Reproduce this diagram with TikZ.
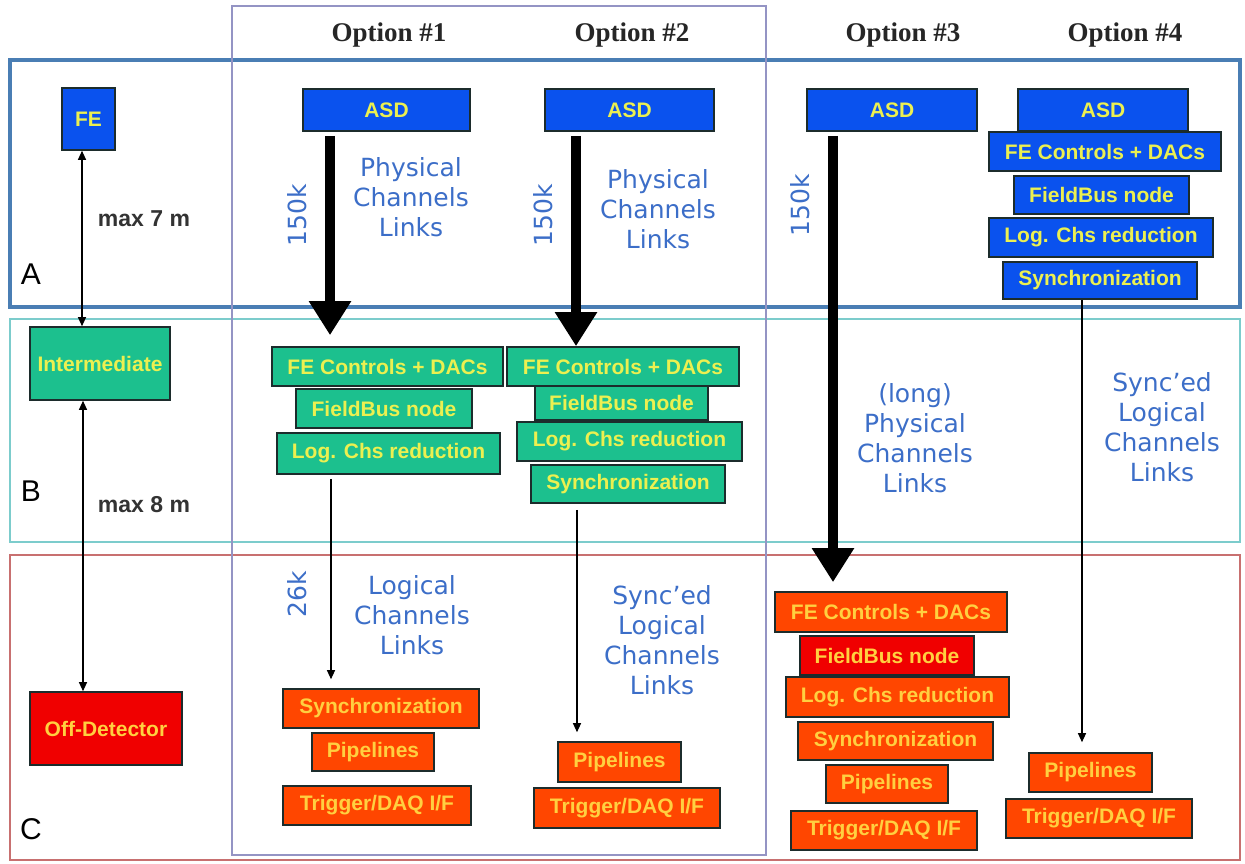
\documentclass[tikz,border=0pt]{standalone}
\usepackage{fontspec}
\usetikzlibrary{arrows.meta}
\setmainfont{Liberation Sans}
\newfontfamily\notefont{DejaVu Sans}
\newfontfamily\headfont{Liberation Serif}
\definecolor{feblue}{HTML}{0A52EE}
\definecolor{midgreen}{HTML}{1CC08E}
\definecolor{offorange}{HTML}{FF4600}
\definecolor{offred}{HTML}{F00000}
\definecolor{textyellow}{HTML}{ECF050}
\definecolor{textgold}{HTML}{FFD040}
\definecolor{linkblue}{HTML}{3C6EC8}
\definecolor{frameA}{HTML}{4A7EB4}
\definecolor{frameB}{HTML}{7CCCCC}
\definecolor{frameC}{HTML}{C87070}
\definecolor{optframe}{HTML}{9494C4}
\definecolor{boxline}{HTML}{1C2C2C}
\tikzset{
  sz/.style 2 args={minimum width=#1pt, minimum height=#2pt},
  blk/.style={draw=boxline, line width=1.6pt, inner sep=0pt, font=\bfseries\fontsize{21}{22}\selectfont},
  feblk/.style={blk, fill=feblue, text=textyellow},
  midblk/.style={blk, fill=midgreen, text=textyellow},
  offblk/.style={blk, fill=offorange, text=textgold},
  links/.style={text=linkblue, align=center, font=\notefont\fontsize{25}{30}\selectfont},
  rate/.style={text=linkblue, rotate=90, font=\notefont\fontsize{25}{30}\selectfont},
  head/.style={text=black!85, anchor=base, font=\headfont\bfseries\fontsize{27}{30}\selectfont},
  region/.style={font=\fontsize{30}{32}\selectfont},
  dist/.style={text=black!80, font=\bfseries\fontsize{23}{24}\selectfont},
  bigarrow/.style={line width=10pt, -{Triangle[width=40pt,length=34pt]}},
  link/.style={line width=1.2pt, -{Triangle[width=8pt,length=9pt]}},
  dim/.style={line width=1.2pt, {Triangle[width=8pt,length=9pt]}-{Triangle[width=8pt,length=9pt]}},
}
\begin{document}
\begin{tikzpicture}[x=1pt, y=-1pt]
\useasboundingbox[fill=white] (0,0) rectangle (1245,864);

% frames
\draw[frameA, line width=3.5pt] (10,60) rectangle (1240,307);
\draw[frameB, line width=1.3pt] (10,319) rectangle (1240,542);
\draw[frameC, line width=1.3pt] (10,555) rectangle (1240,860);
\draw[optframe, line width=2pt] (232,6) rectangle (766,855);

\foreach \n/\x in {1/389,2/632,3/903,4/1125}
{
    \node[head] (opt\n) at (\x,42) {Option \#\n};
}
\node[region] (rA) at (31,274) {A};
\node[region] (rB) at (31,491) {B};
\node[region] (rC) at (31,829) {C};

% left column
\node[feblk, sz={53}{62}] (fe) at (88.5,119) {FE};
\node[midblk, sz={140}{73}] (inter) at (100,363.5) {Intermediate};
\node[offblk, fill=offred, sz={152}{73}] (off) at (106,728.5) {Off-Detector};
\draw[dim] ([xshift=-6.5pt]fe.south) -- ([xshift=-6.5pt]fe.south |- inter.north);
\draw[dim] ([xshift=-17pt]inter.south) -- ([xshift=-17pt]inter.south |- off.north);
\node[dist] (d7) at (144,219) {max 7 m};
\node[dist] (d8) at (144,505) {max 8 m};

\foreach \n/\x/\w in {1/386.5/167,2/629.5/169,3/892/170,4/1103/170}
{
    \node[feblk, sz={\w}{42}] (asd\n) at (\x,110) {ASD};
}

% option 1
\node[midblk, sz={231}{39}] (ctl1) at (387.5,366.5) {FE Controls + DACs};
\node[midblk, sz={176}{39}] (fb1) at (384,408.5) {FieldBus node};
\node[midblk, sz={223}{41}] (log1) at (388.5,453.5) {Log. Chs reduction};
\node[offblk, sz={196}{39}] (syn1) at (381,708.5) {Synchronization};
\node[offblk, sz={122}{38}] (pip1) at (373,752) {Pipelines};
\node[offblk, sz={188}{39}] (trg1) at (377,805.5) {Trigger/DAQ I/F};

% option 2
\node[midblk, sz={232}{39}] (ctl2) at (623,366.5) {FE Controls + DACs};
\node[midblk, sz={173}{34}] (fb2) at (621.5,403) {FieldBus node};
\node[midblk, sz={225}{39}] (log2) at (629.5,441.5) {Log. Chs reduction};
\node[midblk, sz={194}{38}] (syn2) at (628,484) {Synchronization};
\node[offblk, sz={123}{40}] (pip2) at (619.5,762) {Pipelines};
\node[offblk, sz={186}{40}] (trg2) at (627,808) {Trigger/DAQ I/F};

% option 3
\node[offblk, sz={232}{40}] (ctl3) at (891,612) {FE Controls + DACs};
\node[offblk, fill=offred, sz={174}{39}] (fb3) at (887,655.5) {FieldBus node};
\node[offblk, sz={223}{40}] (log3) at (897.5,697) {Log. Chs reduction};
\node[offblk, sz={195}{38}] (syn3) at (895.5,741) {Synchronization};
\node[offblk, sz={122}{38}] (pip3) at (887,784) {Pipelines};
\node[offblk, sz={186}{39}] (trg3) at (884,830.5) {Trigger/DAQ I/F};

% option 4
\node[feblk, sz={232}{39}] (ctl4) at (1105,151.5) {FE Controls + DACs};
\node[feblk, sz={175}{38}] (fb4) at (1101.5,195) {FieldBus node};
\node[feblk, sz={224}{39}] (log4) at (1101,237.5) {Log. Chs reduction};
\node[feblk, sz={194}{37}] (syn4) at (1100,280.5) {Synchronization};
\node[offblk, sz={123}{39}] (pip4) at (1090.5,772.5) {Pipelines};
\node[offblk, sz={186}{39}] (trg4) at (1099,818.5) {Trigger/DAQ I/F};

% links
\coordinate (c1) at (330,0);
\coordinate (c2) at (576,0);
\coordinate (c3) at (833,0);
\coordinate (t1) at (331,0);
\coordinate (t2) at (577,0);
\coordinate (t4) at (1082,0);
\draw[bigarrow, shorten <=4pt, shorten >=11pt] (asd1.south -| c1) -- (ctl1.north -| c1);
\draw[bigarrow, shorten <=4pt] (asd2.south -| c2) -- (ctl2.north -| c2);
\draw[bigarrow, shorten <=4pt, shorten >=9pt] (asd3.south -| c3) -- (ctl3.north -| c3);
\draw[link, shorten <=4pt, shorten >=9pt] (log1.south -| t1) -- (syn1.north -| t1);
\draw[link, shorten <=6pt, shorten >=9pt] (syn2.south -| t2) -- (pip2.north -| t2);
\draw[link, shorten >=10pt] (syn4.south -| t4) -- (pip4.north -| t4);

\node[rate] (k1) at (297,215) {150k};
\node[rate] (k2) at (543,215) {150k};
\node[rate] (k3) at (800,205) {150k};
\node[rate] (k4) at (297,594) {26k};

\node[links] (pl1) at (411,197) {Physical\\Channels\\Links};
\node[links] (pl2) at (658,209) {Physical\\Channels\\Links};
\node[links] (pl3) at (915,438) {(long)\\Physical\\Channels\\Links};
\node[links] (sl4) at (1162,427) {Sync’ed\\Logical\\Channels\\Links};
\node[links] (ll1) at (412,615) {Logical\\Channels\\Links};
\node[links] (sl2) at (662,640) {Sync’ed\\Logical\\Channels\\Links};

\end{tikzpicture}
\end{document}
